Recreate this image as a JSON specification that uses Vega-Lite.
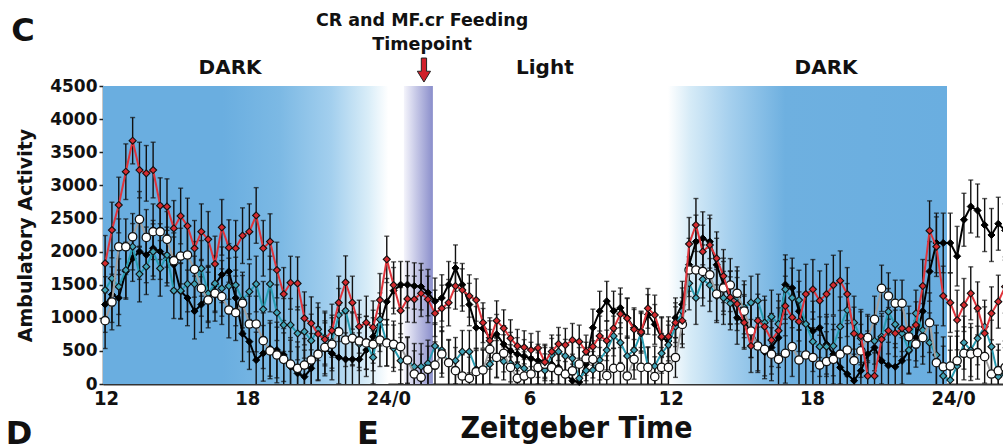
{
  "$schema": "https://vega.github.io/schema/vega-lite/v6.json",
  "width": 900,
  "height": 298,
  "autosize": "none",
  "padding": {"left": 103, "top": 86, "right": 0, "bottom": 60},
  "background": "white",
  "config": {
    "view": {"stroke": null},
    "axisX": {"domainColor": "#333", "domainWidth": 2, "ticks": false, "grid": false, "labelFont": "DejaVu Sans Condensed", "labelFontWeight": "bold", "labelFontSize": 20, "labelColor": "#111", "labelPadding": 4, "labelFlush": false, "labelOverlap": false, "titleFont": "DejaVu Sans Condensed", "titleFontWeight": "bold", "titleFontSize": 30, "titleColor": "#111", "titleX": 473, "titleY": 53, "titleBaseline": "alphabetic", "titleAlign": "center"},
    "axisY": {"tickCount": 10}
  },
  "datasets": {
    "bg": [
      {"a": 11.87, "b": 24.0, "p": "d1"},
      {"a": 24.66, "b": 25.89, "p": "cr"},
      {"a": 35.88, "b": 47.74, "p": "d2"}
    ],
    "labels": [
      {"t": 25.43, "y": 5481, "txt": "CR and MF.cr Feeding", "k": "top"},
      {"t": 25.43, "y": 5119, "txt": "Timepoint", "k": "top"},
      {"t": 17.27, "y": 4772, "txt": "DARK", "k": "phase"},
      {"t": 30.65, "y": 4772, "txt": "Light", "k": "phase"},
      {"t": 42.60, "y": 4772, "txt": "DARK", "k": "phase"},
      {"t": 8.47, "y": 5330, "txt": "C", "k": "panel"},
      {"t": 8.30, "y": -760, "txt": "D", "k": "panel"},
      {"t": 23.13, "y": -760, "txt": "E", "k": "panel"}
    ],
    "arrow": [{"t": 25.51, "y": 4741}],
    "main": [
      {"t": 11.96, "r": 1822, "k": 1200, "w": 956, "g": 1419, "e": 420},
      {"t": 12.25, "r": 2325, "k": 1350, "w": 1238, "g": 1595, "e": 420},
      {"t": 12.54, "r": 2703, "k": 1300, "w": 2073, "g": 1470, "e": 420},
      {"t": 12.84, "r": 3206, "k": 1700, "w": 2073, "g": 1721, "e": 420},
      {"t": 13.13, "r": 3674, "k": 1900, "w": 2224, "g": 2073, "e": 350},
      {"t": 13.42, "r": 3231, "k": 2000, "w": 2486, "g": 1660, "e": 420},
      {"t": 13.71, "r": 3181, "k": 1950, "w": 2214, "g": 1771, "e": 420},
      {"t": 14.00, "r": 3231, "k": 2050, "w": 2300, "g": 1998, "e": 420},
      {"t": 14.30, "r": 2693, "k": 2000, "w": 2300, "g": 1746, "e": 420},
      {"t": 14.59, "r": 2678, "k": 1900, "w": 2184, "g": 1948, "e": 420},
      {"t": 14.88, "r": 2350, "k": 1800, "w": 1862, "g": 1409, "e": 420},
      {"t": 15.17, "r": 2537, "k": 1400, "w": 1932, "g": 1409, "e": 420},
      {"t": 15.46, "r": 2386, "k": 1300, "w": 1948, "g": 1510, "e": 420},
      {"t": 15.76, "r": 2049, "k": 1100, "w": 1731, "g": 1510, "e": 420},
      {"t": 16.05, "r": 2300, "k": 1200, "w": 1444, "g": 1746, "e": 420},
      {"t": 16.34, "r": 2184, "k": 1350, "w": 1268, "g": 1369, "e": 420},
      {"t": 16.63, "r": 1812, "k": 1500, "w": 1369, "g": 1520, "e": 420},
      {"t": 16.92, "r": 2366, "k": 1650, "w": 1319, "g": 1444, "e": 420},
      {"t": 17.22, "r": 2059, "k": 1700, "w": 1117, "g": 1480, "e": 420},
      {"t": 17.51, "r": 2049, "k": 1300, "w": 1077, "g": 1494, "e": 420},
      {"t": 17.80, "r": 2240, "k": 760, "w": 1218, "g": 1268, "e": 420},
      {"t": 18.09, "r": 2300, "k": 640, "w": 906, "g": 1394, "e": 420},
      {"t": 18.38, "r": 2545, "k": 362, "w": 906, "g": 1510, "e": 420},
      {"t": 18.68, "r": 2049, "k": 463, "w": 654, "g": 1128, "e": 420},
      {"t": 18.97, "r": 2150, "k": 538, "w": 500, "g": 1510, "e": 420},
      {"t": 19.26, "r": 1721, "k": 513, "w": 438, "g": 1077, "e": 420},
      {"t": 19.55, "r": 1358, "k": 438, "w": 372, "g": 891, "e": 400},
      {"t": 19.84, "r": 1529, "k": 261, "w": 300, "g": 891, "e": 400},
      {"t": 20.14, "r": 1519, "k": 161, "w": 236, "g": 765, "e": 400},
      {"t": 20.43, "r": 991, "k": 111, "w": 286, "g": 790, "e": 400},
      {"t": 20.72, "r": 916, "k": 236, "w": 362, "g": 654, "e": 400},
      {"t": 21.01, "r": 755, "k": 463, "w": 450, "g": 825, "e": 400},
      {"t": 21.30, "r": 674, "k": 523, "w": 554, "g": 700, "e": 400},
      {"t": 21.60, "r": 805, "k": 463, "w": 600, "g": 639, "e": 400},
      {"t": 21.89, "r": 1228, "k": 402, "w": 790, "g": 1042, "e": 400},
      {"t": 22.18, "r": 1535, "k": 372, "w": 664, "g": 1107, "e": 400},
      {"t": 22.47, "r": 1228, "k": 372, "w": 690, "g": 674, "e": 400},
      {"t": 22.76, "r": 865, "k": 372, "w": 650, "g": 604, "e": 400},
      {"t": 23.06, "r": 926, "k": 513, "w": 620, "g": 624, "e": 400},
      {"t": 23.35, "r": 855, "k": 714, "w": 600, "g": 402, "e": 400},
      {"t": 23.64, "r": 1268, "k": 891, "w": 664, "g": 976, "e": 400},
      {"t": 23.93, "r": 1882, "k": 1243, "w": 620, "g": 624, "e": 350},
      {"t": 24.22, "r": 1494, "k": 1409, "w": 600, "g": 540, "e": 350},
      {"t": 24.52, "r": 1107, "k": 1500, "w": 564, "g": 352, "e": 350},
      {"t": 24.81, "r": 1285, "k": 1500, "w": 362, "g": 352, "e": 350},
      {"t": 25.10, "r": 1278, "k": 1480, "w": 151, "g": 261, "e": 350},
      {"t": 25.39, "r": 1369, "k": 1470, "w": 101, "g": 261, "e": 350},
      {"t": 25.68, "r": 1278, "k": 1380, "w": 221, "g": 312, "e": 350},
      {"t": 25.98, "r": 1067, "k": 1250, "w": 286, "g": 574, "e": 350},
      {"t": 26.27, "r": 1142, "k": 1300, "w": 453, "g": 513, "e": 350},
      {"t": 26.56, "r": 1228, "k": 1500, "w": 322, "g": 312, "e": 350},
      {"t": 26.85, "r": 1480, "k": 1750, "w": 201, "g": 352, "e": 350},
      {"t": 27.14, "r": 1419, "k": 1500, "w": 121, "g": 488, "e": 320},
      {"t": 27.44, "r": 1329, "k": 1200, "w": 85, "g": 488, "e": 320},
      {"t": 27.73, "r": 1268, "k": 850, "w": 186, "g": 221, "e": 320},
      {"t": 28.02, "r": 926, "k": 840, "w": 211, "g": 221, "e": 300},
      {"t": 28.31, "r": 654, "k": 700, "w": 523, "g": 300, "e": 300},
      {"t": 28.60, "r": 956, "k": 750, "w": 402, "g": 392, "e": 300},
      {"t": 28.90, "r": 840, "k": 600, "w": 463, "g": 342, "e": 280},
      {"t": 29.19, "r": 690, "k": 500, "w": 251, "g": 312, "e": 280},
      {"t": 29.48, "r": 574, "k": 450, "w": 85, "g": 271, "e": 250},
      {"t": 29.77, "r": 554, "k": 420, "w": 120, "g": 236, "e": 250},
      {"t": 30.06, "r": 513, "k": 380, "w": 151, "g": 161, "e": 250},
      {"t": 30.36, "r": 544, "k": 350, "w": 251, "g": 221, "e": 250},
      {"t": 30.65, "r": 330, "k": 350, "w": 300, "g": 205, "e": 250},
      {"t": 30.94, "r": 490, "k": 300, "w": 250, "g": 438, "e": 250},
      {"t": 31.23, "r": 604, "k": 250, "w": 200, "g": 488, "e": 250},
      {"t": 31.52, "r": 589, "k": 150, "w": 150, "g": 423, "e": 250},
      {"t": 31.82, "r": 664, "k": 50, "w": 200, "g": 387, "e": 250},
      {"t": 32.11, "r": 639, "k": 30, "w": 300, "g": 85, "e": 250},
      {"t": 32.40, "r": 488, "k": 300, "w": 380, "g": 201, "e": 250},
      {"t": 32.69, "r": 564, "k": 850, "w": 372, "g": 211, "e": 280},
      {"t": 32.98, "r": 725, "k": 1100, "w": 251, "g": 362, "e": 300},
      {"t": 33.28, "r": 654, "k": 1250, "w": 126, "g": 513, "e": 300},
      {"t": 33.57, "r": 840, "k": 1100, "w": 236, "g": 725, "e": 300},
      {"t": 33.86, "r": 1057, "k": 1150, "w": 251, "g": 624, "e": 300},
      {"t": 34.15, "r": 991, "k": 1000, "w": 121, "g": 423, "e": 300},
      {"t": 34.44, "r": 825, "k": 850, "w": 372, "g": 513, "e": 300},
      {"t": 34.74, "r": 785, "k": 800, "w": 251, "g": 765, "e": 300},
      {"t": 35.03, "r": 1142, "k": 1050, "w": 251, "g": 261, "e": 300},
      {"t": 35.32, "r": 1042, "k": 900, "w": 111, "g": 271, "e": 300},
      {"t": 35.61, "r": 715, "k": 700, "w": 251, "g": 463, "e": 300},
      {"t": 35.90, "r": 715, "k": 650, "w": 251, "g": 589, "e": 300},
      {"t": 36.20, "r": 926, "k": 1000, "w": 400, "g": 865, "e": 300},
      {"t": 36.49, "r": 956, "k": 1200, "w": 900, "g": 1100, "e": 350},
      {"t": 36.78, "r": 2114, "k": 1800, "w": 1721, "g": 1520, "e": 400},
      {"t": 37.07, "r": 2401, "k": 2150, "w": 1721, "g": 1300, "e": 400},
      {"t": 37.36, "r": 1998, "k": 2200, "w": 1700, "g": 1580, "e": 400},
      {"t": 37.66, "r": 2099, "k": 2150, "w": 1650, "g": 1494, "e": 400},
      {"t": 37.95, "r": 1897, "k": 1800, "w": 1358, "g": 1328, "e": 400},
      {"t": 38.24, "r": 1630, "k": 1500, "w": 1450, "g": 1300, "e": 400},
      {"t": 38.53, "r": 1308, "k": 1300, "w": 1494, "g": 1218, "e": 400},
      {"t": 38.82, "r": 1208, "k": 1000, "w": 1369, "g": 1308, "e": 400},
      {"t": 39.12, "r": 926, "k": 950, "w": 1100, "g": 1157, "e": 400},
      {"t": 39.41, "r": 574, "k": 800, "w": 800, "g": 1228, "e": 400},
      {"t": 39.70, "r": 956, "k": 600, "w": 574, "g": 1258, "e": 400},
      {"t": 39.99, "r": 865, "k": 480, "w": 523, "g": 926, "e": 400},
      {"t": 40.28, "r": 664, "k": 550, "w": 450, "g": 1017, "e": 400},
      {"t": 40.58, "r": 805, "k": 700, "w": 372, "g": 906, "e": 450},
      {"t": 40.87, "r": 1178, "k": 1500, "w": 463, "g": 1429, "e": 450},
      {"t": 41.16, "r": 1006, "k": 1450, "w": 564, "g": 1300, "e": 450},
      {"t": 41.45, "r": 941, "k": 1100, "w": 362, "g": 1268, "e": 450},
      {"t": 41.74, "r": 1358, "k": 900, "w": 438, "g": 906, "e": 450},
      {"t": 42.04, "r": 1429, "k": 800, "w": 400, "g": 639, "e": 450},
      {"t": 42.33, "r": 1258, "k": 850, "w": 286, "g": 564, "e": 450},
      {"t": 42.62, "r": 1358, "k": 600, "w": 340, "g": 564, "e": 450},
      {"t": 42.91, "r": 1494, "k": 450, "w": 372, "g": 574, "e": 450},
      {"t": 43.20, "r": 1560, "k": 250, "w": 450, "g": 865, "e": 450},
      {"t": 43.50, "r": 1358, "k": 150, "w": 513, "g": 1117, "e": 400},
      {"t": 43.79, "r": 760, "k": 50, "w": 352, "g": 926, "e": 400},
      {"t": 44.08, "r": 725, "k": 200, "w": 500, "g": 690, "e": 400},
      {"t": 44.37, "r": 121, "k": 450, "w": 700, "g": 674, "e": 350},
      {"t": 44.66, "r": 121, "k": 550, "w": 976, "g": 650, "e": 350},
      {"t": 44.96, "r": 674, "k": 350, "w": 1444, "g": 714, "e": 350},
      {"t": 45.25, "r": 805, "k": 280, "w": 1329, "g": 1092, "e": 350},
      {"t": 45.54, "r": 765, "k": 260, "w": 1218, "g": 900, "e": 350},
      {"t": 45.83, "r": 840, "k": 350, "w": 1218, "g": 765, "e": 350},
      {"t": 46.12, "r": 825, "k": 500, "w": 714, "g": 513, "e": 350},
      {"t": 46.42, "r": 891, "k": 700, "w": 604, "g": 1067, "e": 350},
      {"t": 46.71, "r": 1480, "k": 1100, "w": 700, "g": 815, "e": 400},
      {"t": 47.00, "r": 2315, "k": 1700, "w": 926, "g": 624, "e": 450},
      {"t": 47.29, "r": 2074, "k": 2130, "w": 322, "g": 438, "e": 450},
      {"t": 47.58, "r": 1329, "k": 2130, "w": 261, "g": 121, "e": 450},
      {"t": 47.88, "r": 1228, "k": 2130, "w": 271, "g": 60, "e": 450},
      {"t": 48.17, "r": 966, "k": 1930, "w": 350, "g": 271, "e": 450},
      {"t": 48.46, "r": 1193, "k": 2480, "w": 463, "g": 624, "e": 400},
      {"t": 48.75, "r": 1369, "k": 2680, "w": 453, "g": 513, "e": 400},
      {"t": 49.04, "r": 1142, "k": 2620, "w": 473, "g": 690, "e": 400},
      {"t": 49.34, "r": 765, "k": 2400, "w": 413, "g": 865, "e": 400},
      {"t": 49.63, "r": 1067, "k": 2250, "w": 151, "g": 564, "e": 400},
      {"t": 49.92, "r": 1243, "k": 2420, "w": 201, "g": 111, "e": 400},
      {"t": 50.21, "r": 1470, "k": 2320, "w": 250, "g": 150, "e": 400}
    ]
  },
  "layer": [
    {
      "data": {"name": "bg"},
      "transform": [{"filter": "datum.p == 'd1'"}],
      "mark": {"type": "rect", "color": {"gradient": "linear", "x1": 0, "x2": 1, "y1": 0, "y2": 0, "stops": [{"offset": 0, "color": "#6aaee0"}, {"offset": 0.42, "color": "#6aaee0"}, {"offset": 0.62, "color": "#7cb9e4"}, {"offset": 0.8, "color": "#a3cfee"}, {"offset": 0.93, "color": "#d9edf8"}, {"offset": 1, "color": "#ffffff"}]}},
      "encoding": {
        "x": {"field": "a", "type": "quantitative", "scale": {"domain": [11.87, 50.12], "nice": false, "zero": false}, "title": "Zeitgeber Time", "axis": {"values": [12, 18, 24, 30, 36, 42, 48], "labelExpr": "datum.value == 24 || datum.value == 48 ? '24/0' : datum.value == 30 ? '6' : datum.value == 36 ? '12' : datum.value == 42 ? '18' : datum.label"}},
        "x2": {"field": "b"},
        "y": {"datum": 0, "type": "quantitative", "scale": {"domain": [0, 4500], "nice": false},
              "axis": {"values": [0, 500, 1000, 1500, 2000, 2500, 3000, 3500, 4000, 4500], "format": "d", "title": "Ambulatory Activity", "labelFont": "DejaVu Sans", "labelFontWeight": "bold", "labelFontSize": 17, "labelColor": "#111", "labelPadding": 2, "labelOverlap": false, "tickSize": 4, "tickColor": "#222", "tickWidth": 1.5, "domainColor": "#222", "domainWidth": 1.5, "grid": false, "titleFont": "DejaVu Sans", "titleFontWeight": "bold", "titleFontSize": 19, "titleColor": "#111", "titleX": -72, "titleY": 149, "titleAlign": "center", "titleBaseline": "alphabetic"}},
        "y2": {"datum": 4500}
      }
    },
    {
      "data": {"name": "bg"},
      "transform": [{"filter": "datum.p == 'cr'"}],
      "mark": {"type": "rect", "color": {"gradient": "linear", "x1": 0, "x2": 1, "y1": 0, "y2": 0, "stops": [{"offset": 0, "color": "#f4f4fb"}, {"offset": 0.45, "color": "#c3c5e5"}, {"offset": 1, "color": "#8a8ecb"}]}},
      "encoding": {
        "x": {"field": "a", "type": "quantitative"},
        "x2": {"field": "b"},
        "y": {"datum": 0, "type": "quantitative"},
        "y2": {"datum": 4500}
      }
    },
    {
      "data": {"name": "bg"},
      "transform": [{"filter": "datum.p == 'd2'"}],
      "mark": {"type": "rect", "color": {"gradient": "linear", "x1": 0, "x2": 1, "y1": 0, "y2": 0, "stops": [{"offset": 0, "color": "#ffffff"}, {"offset": 0.08, "color": "#d6ebf7"}, {"offset": 0.22, "color": "#a6d0ee"}, {"offset": 0.42, "color": "#6eb0e0"}, {"offset": 1, "color": "#6aaee0"}]}},
      "encoding": {
        "x": {"field": "a", "type": "quantitative"},
        "x2": {"field": "b"},
        "y": {"datum": 0, "type": "quantitative"},
        "y2": {"datum": 4500}
      }
    },
    {
      "data": {"name": "main"},
      "transform": [
        {"fold": ["k", "g", "w", "r"], "as": ["s", "v"]},
        {"calculate": "datum.v - datum.e", "as": "lo"},
        {"calculate": "datum.v + datum.e", "as": "hi"}
      ],
      "layer": [
        {"mark": {"type": "rule", "color": "#111", "strokeWidth": 1.4, "clip": true},
         "encoding": {"x": {"field": "t", "type": "quantitative"}, "y": {"field": "lo", "type": "quantitative", "title": "Ambulatory Activity"}, "y2": {"field": "hi"}}},
        {"mark": {"type": "tick", "orient": "horizontal", "color": "#111", "size": 5, "thickness": 1.4, "clip": true},
         "encoding": {"x": {"field": "t", "type": "quantitative"}, "y": {"field": "hi", "type": "quantitative", "title": "Ambulatory Activity"}}},
        {"mark": {"type": "tick", "orient": "horizontal", "color": "#111", "size": 5, "thickness": 1.4, "clip": true},
         "encoding": {"x": {"field": "t", "type": "quantitative"}, "y": {"field": "lo", "type": "quantitative", "title": "Ambulatory Activity"}}},
        {"transform": [{"filter": "datum.s == 'k'"}], "mark": {"type": "line", "color": "#000", "strokeWidth": 2},
         "encoding": {"x": {"field": "t", "type": "quantitative"}, "y": {"field": "v", "type": "quantitative", "title": "Ambulatory Activity"}}},
        {"transform": [{"filter": "datum.s == 'k'"}], "mark": {"type": "point", "shape": "diamond", "filled": true, "fill": "#000", "stroke": "#000", "strokeWidth": 1, "size": 50, "opacity": 1},
         "encoding": {"x": {"field": "t", "type": "quantitative"}, "y": {"field": "v", "type": "quantitative", "title": "Ambulatory Activity"}}},
        {"transform": [{"filter": "datum.s == 'g'"}], "mark": {"type": "line", "color": "#2a9db3", "strokeWidth": 2},
         "encoding": {"x": {"field": "t", "type": "quantitative"}, "y": {"field": "v", "type": "quantitative", "title": "Ambulatory Activity"}}},
        {"transform": [{"filter": "datum.s == 'g'"}], "mark": {"type": "point", "shape": "diamond", "filled": true, "fill": "#3fa2b6", "stroke": "#111", "strokeWidth": 1.1, "size": 50, "opacity": 1},
         "encoding": {"x": {"field": "t", "type": "quantitative"}, "y": {"field": "v", "type": "quantitative", "title": "Ambulatory Activity"}}},
        {"transform": [{"filter": "datum.s == 'w'"}], "mark": {"type": "line", "color": "#a0a0a0", "strokeWidth": 2},
         "encoding": {"x": {"field": "t", "type": "quantitative"}, "y": {"field": "v", "type": "quantitative", "title": "Ambulatory Activity"}}},
        {"transform": [{"filter": "datum.s == 'w'"}], "mark": {"type": "point", "shape": "circle", "filled": true, "fill": "#ffffff", "stroke": "#111", "strokeWidth": 1.3, "size": 70, "opacity": 1},
         "encoding": {"x": {"field": "t", "type": "quantitative"}, "y": {"field": "v", "type": "quantitative", "title": "Ambulatory Activity"}}},
        {"transform": [{"filter": "datum.s == 'r'"}], "mark": {"type": "line", "color": "#e0353c", "strokeWidth": 2},
         "encoding": {"x": {"field": "t", "type": "quantitative"}, "y": {"field": "v", "type": "quantitative", "title": "Ambulatory Activity"}}},
        {"transform": [{"filter": "datum.s == 'r'"}], "mark": {"type": "point", "shape": "diamond", "filled": true, "fill": "#d42a2e", "stroke": "#111", "strokeWidth": 1.1, "size": 50, "opacity": 1},
         "encoding": {"x": {"field": "t", "type": "quantitative"}, "y": {"field": "v", "type": "quantitative", "title": "Ambulatory Activity"}}}
      ]
    },
    {
      "data": {"name": "labels"},
      "transform": [{"filter": "datum.k == 'top'"}],
      "mark": {"type": "text", "font": "DejaVu Sans", "fontWeight": "bold", "fontSize": 17.5, "color": "#111", "baseline": "middle", "align": "center"},
      "encoding": {"x": {"field": "t", "type": "quantitative"}, "y": {"field": "y", "type": "quantitative", "title": "Ambulatory Activity"}, "text": {"field": "txt"}}
    },
    {
      "data": {"name": "labels"},
      "transform": [{"filter": "datum.k == 'phase'"}],
      "mark": {"type": "text", "font": "DejaVu Sans", "fontWeight": "bold", "fontSize": 20, "color": "#111", "baseline": "middle", "align": "center"},
      "encoding": {"x": {"field": "t", "type": "quantitative"}, "y": {"field": "y", "type": "quantitative", "title": "Ambulatory Activity"}, "text": {"field": "txt"}}
    },
    {
      "data": {"name": "labels"},
      "transform": [{"filter": "datum.k == 'panel'"}],
      "mark": {"type": "text", "font": "DejaVu Sans", "fontWeight": "bold", "fontSize": 32, "color": "#111", "baseline": "middle", "align": "center"},
      "encoding": {"x": {"field": "t", "type": "quantitative"}, "y": {"field": "y", "type": "quantitative", "title": "Ambulatory Activity"}, "text": {"field": "txt"}}
    },
    {
      "data": {"name": "arrow"},
      "mark": {"type": "point", "shape": "M -0.22 -1 L 0.22 -1 L 0.22 0.1 L 0.55 0.1 L 0 1 L -0.55 0.1 L -0.22 0.1 Z", "filled": true, "fill": "#d0202a", "stroke": "#222", "strokeWidth": 1, "size": 576, "opacity": 1},
      "encoding": {"x": {"field": "t", "type": "quantitative"}, "y": {"field": "y", "type": "quantitative", "title": "Ambulatory Activity"}}
    }
  ]
}
